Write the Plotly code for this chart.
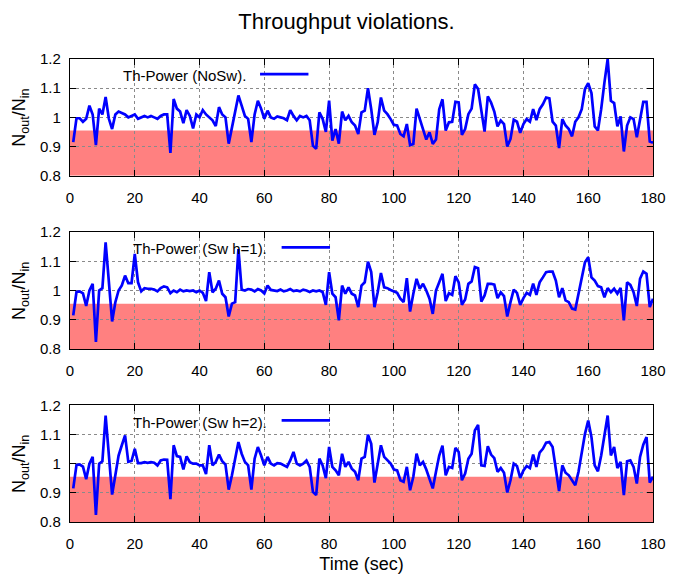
import plotly.graph_objects as go

# ---------------- data ----------------
time_s = list(range(1, 181))

th_nosw = [
    0.915, 0.997, 0.997, 0.985, 0.995, 1.04, 1.01, 0.905, 1.03, 1.01,
    1.07, 0.995, 0.96, 1.01, 1.02, 1.015, 1.01, 1.0, 1.005, 1.01,
    0.995, 1.0, 1.005, 1.0, 1.005, 1.0, 0.995, 1.005, 1.01, 1.01,
    0.878, 1.063, 1.03, 1.02, 0.98, 1.025, 1.005, 0.962, 1.01, 1.0,
    1.025, 1.01, 1.0, 0.99, 0.97, 1.035, 1.01, 1.0, 0.91, 0.965,
    1.03, 1.075, 1.04, 1.005, 0.995, 0.915, 1.01, 1.057, 1.03, 0.995,
    1.023, 1.0, 0.995, 1.003, 1.0, 0.997, 0.99, 1.025, 1.005, 0.99,
    1.005, 1.0, 1.005, 0.99, 0.903, 0.892, 1.017, 0.995, 0.95, 1.057,
    0.92, 0.96, 0.91, 1.02, 0.99, 1.005, 0.983, 0.972, 0.943, 1.017,
    1.023, 1.1, 1.028, 0.94, 0.983, 1.068, 1.023, 1.011, 0.994, 0.974,
    0.972, 0.943, 0.935, 0.977, 0.905, 0.909, 1.03, 0.994, 0.955, 0.924,
    0.949, 0.909, 0.924, 1.028, 1.062, 0.955, 0.983, 0.985, 1.053, 1.051,
    0.94, 0.96, 1.011, 1.03, 1.113, 1.097, 1.023, 0.951, 1.072, 1.051,
    1.02, 0.969, 0.989, 0.977, 0.9, 0.926, 0.992, 0.985, 0.947, 0.977,
    0.994, 0.985, 1.028, 0.991, 1.028, 1.045, 1.068, 1.065, 0.985, 0.972,
    0.895, 0.994, 0.972, 0.96, 0.935, 0.985, 1.0, 1.028, 1.097, 1.117,
    1.083, 0.969, 0.955, 1.028, 1.119, 1.2, 1.057, 1.049, 0.969, 1.003,
    0.883, 0.972, 1.0, 0.994, 0.932, 0.994, 1.053, 1.053, 0.917, 0.913,
]

th_sw_h1 = [
    0.915, 0.995, 0.997, 0.99, 0.947, 1.0, 1.023, 0.824, 1.0, 1.008,
    1.165, 1.023, 0.894, 0.96, 1.0, 1.017, 1.051, 1.025, 1.025, 1.125,
    1.028, 0.997, 1.008, 1.006, 1.006, 1.003, 0.997, 1.008, 1.014, 1.011,
    0.991, 1.0, 0.994, 1.003, 0.997, 1.0, 0.998, 1.0, 0.994, 1.0,
    0.992, 0.964, 1.063, 0.994, 1.006, 1.034, 0.989, 0.977, 0.911, 0.955,
    0.96, 1.142, 1.003, 1.0, 1.005, 1.003, 0.997, 1.005, 1.0, 0.99,
    1.017, 1.002, 1.0, 0.998, 1.003, 0.997, 1.0, 1.005, 0.998, 1.0,
    0.997, 1.003, 1.0, 0.995, 1.0, 0.997, 1.0, 0.995, 0.951, 1.063,
    0.989, 0.977, 0.898, 1.017, 0.989, 1.011, 0.989, 0.983, 0.943, 1.017,
    1.028, 1.099, 1.063, 0.943, 0.994, 1.06, 1.011, 1.008, 1.002, 0.997,
    0.992, 0.972, 0.96, 1.042, 0.928, 0.989, 1.04, 1.006, 1.023, 1.0,
    0.972, 0.92, 1.0, 1.028, 1.057, 0.964, 0.991, 0.985, 1.049, 1.028,
    0.951, 0.969, 1.023, 1.031, 1.08, 1.076, 0.962, 0.983, 1.023, 1.023,
    1.02, 0.974, 0.994, 0.981, 0.911, 0.96, 1.003, 0.992, 0.951, 0.974,
    0.992, 0.985, 1.024, 0.985, 1.028, 1.045, 1.063, 1.065, 1.065, 1.034,
    0.977, 1.008, 0.966, 0.96, 0.938, 0.935, 0.989, 1.051, 1.097, 1.114,
    1.045, 1.034, 1.015, 1.011, 0.977, 1.008, 0.994, 1.006, 0.989, 1.009,
    0.898, 1.028, 1.019, 0.994, 0.947, 1.04, 1.065, 1.057, 0.943, 0.972,
]

th_sw_h2 = [
    0.915, 0.995, 0.997, 0.99, 0.947, 1.0, 1.023, 0.824, 1.0, 1.008,
    1.165, 1.023, 0.894, 0.96, 1.028, 1.063, 1.097, 1.006, 1.009, 1.051,
    1.002, 1.002, 1.005, 1.003, 1.005, 1.003, 0.994, 1.011, 1.014, 1.013,
    0.878, 1.063, 1.026, 1.023, 0.98, 1.025, 1.005, 1.0, 1.0, 0.994,
    0.994, 0.964, 1.063, 0.994, 1.006, 1.031, 1.008, 0.997, 0.911, 0.96,
    1.023, 1.074, 1.034, 1.006, 0.994, 0.911, 1.017, 1.057, 1.028, 0.994,
    1.023, 1.0, 0.994, 1.002, 1.0, 0.994, 0.989, 1.011, 1.04, 1.0,
    0.994, 1.0, 1.011, 0.989, 0.903, 0.892, 1.017, 0.994, 0.95, 1.057,
    0.989, 0.977, 0.96, 1.034, 0.989, 1.006, 0.983, 0.972, 0.943, 1.017,
    1.023, 1.099, 1.068, 0.935, 0.994, 1.063, 1.023, 1.011, 1.0, 0.98,
    0.977, 0.943, 0.938, 0.989, 0.909, 0.955, 1.034, 0.994, 1.006, 0.98,
    0.949, 0.915, 0.972, 1.028, 1.062, 0.96, 0.989, 0.985, 1.054, 1.04,
    0.943, 0.966, 1.017, 1.034, 1.114, 1.133, 0.994, 0.992, 1.06, 1.031,
    1.019, 0.972, 0.985, 0.969, 0.901, 0.943, 1.0, 0.992, 0.951, 0.977,
    0.992, 0.985, 1.031, 0.989, 1.038, 1.051, 1.072, 1.074, 1.057, 0.977,
    0.906, 0.994, 0.969, 0.96, 0.943, 0.926, 0.972, 1.034, 1.102, 1.148,
    1.091, 0.994, 0.974, 1.028, 1.099, 1.165, 1.028, 1.057, 0.985, 1.006,
    0.892, 1.008, 1.011, 0.989, 0.932, 1.023, 1.065, 1.091, 0.935, 0.955,
]

series_names = ["Th-Power (NoSw).", "Th-Power (Sw h=1).", "Th-Power (Sw h=2)."]
series_values = [th_nosw, th_sw_h1, th_sw_h2]

violation_low = 0.8
violation_threshold = 0.955

x_ticks = [0, 20, 40, 60, 80, 100, 120, 140, 160, 180]
y_ticks = [0.8, 0.9, 1.0, 1.1, 1.2]
y_tick_labels = ["0.8", "0.9", "1", "1.1", "1.2"]

# ---------------- figure ----------------
FONT = "Liberation Sans, Arial, Helvetica, sans-serif"
fig = go.Figure()

# panel domains (paper fractions)
domains = [[0.7479, 1.0], [0.3739, 0.6261], [0.0, 0.2521]]

annotations = []
shapes = []
for i, (name, vals) in enumerate(zip(series_names, series_values)):
    n = "" if i == 0 else str(i + 1)
    xa, ya = "x" + n, "y" + n
    fig.add_trace(go.Scatter(
        x=time_s, y=vals, mode="lines", name=name,
        line=dict(color="#0000ff", width=2.7),
        xaxis=xa, yaxis=ya, showlegend=False, cliponaxis=True,
        hoverinfo="skip",
    ))
    axis_common = dict(
        showline=True, linecolor="black", linewidth=1.2, mirror="ticks",
        ticks="inside", ticklen=6, tickwidth=1, tickcolor="black",
        showgrid=True, gridcolor="#8a8a8a", griddash="dot", gridwidth=1,
        zeroline=False, tickfont=dict(family=FONT, size=15, color="black"),
    )
    fig.layout["xaxis" + n] = dict(
        axis_common, domain=[0, 1], range=[0, 180], tickvals=x_ticks,
        anchor=ya, ticklabelstandoff=8,
    )
    fig.layout["yaxis" + n] = dict(
        axis_common, domain=domains[i], range=[violation_low, 1.2],
        tickvals=y_ticks, ticktext=y_tick_labels, anchor=xa,
        ticklabelstandoff=5,
    )
    # violation band
    shapes.append(dict(
        type="rect", xref=xa + " domain", yref=ya, x0=0, x1=1,
        y0=violation_low, y1=violation_threshold,
        fillcolor="#ff8080", line=dict(width=0), layer="below",
    ))
    # gnuplot-style key: text then line sample
    text_end = 0.306 if i == 0 else 0.342
    line_start = 0.326 if i == 0 else 0.363
    annotations.append(dict(
        text=name, xref=xa + " domain", yref=ya + " domain",
        x=text_end, y=0.856, xanchor="right", yanchor="middle",
        showarrow=False, font=dict(family=FONT, size=15, color="black"),
    ))
    shapes.append(dict(
        type="line", xref=xa + " domain", yref=ya + " domain",
        x0=line_start, x1=line_start + 0.083, y0=0.87, y1=0.87,
        line=dict(color="#0000ff", width=2.7), layer="above",
    ))
    # y-axis title
    annotations.append(dict(
        text="N<sub>out</sub>/N<sub>in</sub>", xref="paper",
        yref=ya + " domain", x=-0.085, y=0.5, xanchor="center",
        yanchor="middle", textangle=-90, showarrow=False,
        font=dict(family=FONT, size=18, color="black"),
    ))

fig.layout["xaxis3"]["title"] = dict(
    text="Time (sec)", font=dict(family=FONT, size=18, color="black"),
    standoff=6,
)

fig.update_layout(
    width=678, height=583,
    margin=dict(l=70, r=18, t=59, b=56),
    paper_bgcolor="white", plot_bgcolor="white",
    title=dict(text="Throughput violations.", x=0.511, xanchor="center",
               y=0.964, yanchor="middle",
               font=dict(family=FONT, size=22, color="black")),
    annotations=annotations, shapes=shapes,
    showlegend=False, hovermode=False,
)

# remove the default 8px page margin so the figure fills the window exactly
fig.write_html("out.html",
               config={"displayModeBar": False},
               post_script="document.body.style.margin='0';")
